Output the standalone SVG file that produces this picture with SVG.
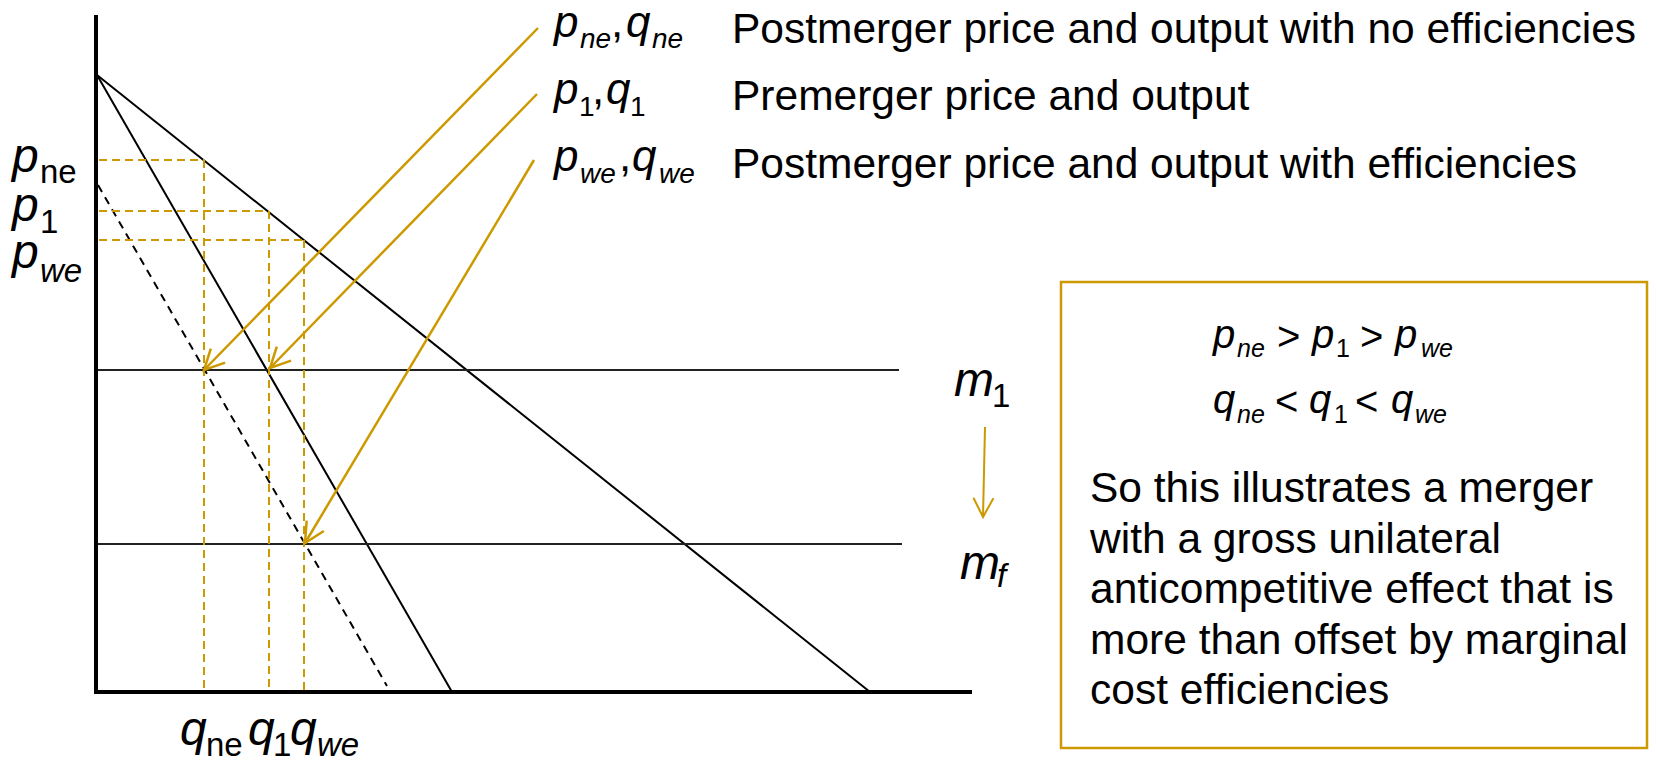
<svg xmlns="http://www.w3.org/2000/svg" width="1656" height="763" viewBox="0 0 1656 763">
<style>
  text { font-family: "Liberation Sans", Arial, sans-serif; fill: #000; }
  .it { font-style: italic; }
  .big { font-size: 48px; }
  .sub { font-size: 33px; }
  .lg { font-size: 44px; }
  .lgsub { font-size: 28px; }
  .txt { font-size: 42.5px; }
  .eq { font-size: 40px; }
  .eqsub { font-size: 25px; }
  .axis { stroke: #000; stroke-width: 4; fill: none; }
  .curve { stroke: #000; stroke-width: 2; fill: none; }
  .mc { stroke: #222; stroke-width: 2; fill: none; }
  .bdash { stroke: #000; stroke-width: 2; stroke-dasharray: 8 6; fill: none; }
  .odash { stroke: #CC9900; stroke-width: 2; stroke-dasharray: 8 5; fill: none; }
  .arrow { stroke: #CC9900; stroke-width: 2.5; fill: none; marker-end: url(#head); }
  .arrow2 { stroke: #CC9900; stroke-width: 2; fill: none; marker-end: url(#head2); }
</style>
<defs>
  <marker id="head" markerUnits="userSpaceOnUse" viewBox="-24 -13 26 26" markerWidth="26" markerHeight="26" refX="0" refY="0" orient="auto" overflow="visible">
    <path d="M-20,-10 L0,0 L-20,10" fill="none" stroke="#CC9900" stroke-width="2.5"/>
  </marker>
  <marker id="head2" markerUnits="userSpaceOnUse" viewBox="-24 -13 26 26" markerWidth="26" markerHeight="26" refX="0" refY="0" orient="auto" overflow="visible">
    <path d="M-19,-10 L0,0 L-19,10" fill="none" stroke="#CC9900" stroke-width="2"/>
  </marker>
</defs>
<rect width="1656" height="763" fill="#fff"/>

<g id="axes">
  <line class="axis" x1="96" y1="15" x2="96" y2="694"/>
  <line class="axis" x1="94" y1="692" x2="972" y2="692"/>
</g>

<g id="curves">
  <line class="curve" x1="97" y1="75" x2="870" y2="692"/>
  <line class="curve" x1="97" y1="75" x2="452" y2="692"/>
  <line class="bdash" x1="98" y1="185" x2="387" y2="686"/>
  <line class="mc" x1="98" y1="370" x2="899" y2="370"/>
  <line class="mc" x1="98" y1="544" x2="902" y2="544"/>
</g>

<g id="guides">
  <line class="odash" x1="99" y1="160" x2="204" y2="160"/>
  <line class="odash" x1="99" y1="211" x2="269" y2="211"/>
  <line class="odash" x1="99" y1="240" x2="304" y2="240"/>
  <line class="odash" x1="204" y1="160" x2="204" y2="692"/>
  <line class="odash" x1="269" y1="211" x2="269" y2="692"/>
  <line class="odash" x1="304" y1="240" x2="304" y2="695"/>
</g>

<g id="connectors">
  <line class="arrow" x1="538" y1="28" x2="204" y2="370"/>
  <line class="arrow" x1="537" y1="94" x2="270" y2="368"/>
  <line class="arrow" x1="534" y1="160" x2="305" y2="543"/>
  <line class="arrow2" x1="985" y1="427" x2="983" y2="517"/>
</g>

<g id="label-pne">
  <text class="big it" x="12" y="172">p</text>
  <text class="sub" x="40" y="183">ne</text>
</g>
<g id="label-p1">
  <text class="big it" x="12" y="221">p</text>
  <text class="sub" x="40" y="233">1</text>
</g>
<g id="label-pwe">
  <text class="big it" x="12" y="268">p</text>
  <text class="sub it" x="40" y="282">we</text>
</g>

<g id="label-qne">
  <text class="big it" x="180" y="745">q</text>
  <text class="sub" x="206" y="756">ne</text>
</g>
<g id="label-q1">
  <text class="big it" x="248" y="745">q</text>
  <text class="sub" x="273" y="756">1</text>
</g>
<g id="label-qwe">
  <text class="big it" x="290" y="745">q</text>
  <text class="sub it" x="317" y="756">we</text>
</g>

<g id="label-m1">
  <text class="big it" x="954" y="396">m</text>
  <text class="sub" x="992" y="407">1</text>
</g>
<g id="label-mf">
  <text class="big it" x="960" y="579">m</text>
  <text class="sub it" x="997" y="587">f</text>
</g>

<g id="legend-ne">
  <text class="lg it" x="554" y="37">p</text>
  <text class="lgsub it" x="580" y="48">ne</text>
  <text class="lg" x="611" y="37">,</text>
  <text class="lg it" x="626" y="37">q</text>
  <text class="lgsub it" x="652" y="48">ne</text>
  <text class="txt" x="732" y="43">Postmerger price and output with no efficiencies</text>
</g>
<g id="legend-1">
  <text class="lg it" x="554" y="104">p</text>
  <text class="lgsub" x="579" y="116">1</text>
  <text class="lg" x="592" y="104">,</text>
  <text class="lg it" x="606" y="104">q</text>
  <text class="lgsub" x="630" y="116">1</text>
  <text class="txt" x="732" y="110">Premerger price and output</text>
</g>
<g id="legend-we">
  <text class="lg it" x="554" y="171">p</text>
  <text class="lgsub it" x="580" y="183">we</text>
  <text class="lg" x="619" y="171">,</text>
  <text class="lg it" x="632" y="171">q</text>
  <text class="lgsub it" x="659" y="183">we</text>
  <text class="txt" x="732" y="178">Postmerger price and output with efficiencies</text>
</g>

<g id="summary-box">
  <rect x="1061" y="282" width="586" height="466" fill="none" stroke="#CC9900" stroke-width="2.5"/>
  <text class="eq it" x="1213" y="348">p</text>
  <text class="eqsub it" x="1237" y="357">ne</text>
  <text class="eq" x="1277" y="350">&gt;</text>
  <text class="eq it" x="1312" y="348">p</text>
  <text class="eqsub" x="1336" y="357">1</text>
  <text class="eq" x="1360" y="350">&gt;</text>
  <text class="eq it" x="1395" y="348">p</text>
  <text class="eqsub it" x="1421" y="357">we</text>

  <text class="eq it" x="1213" y="413">q</text>
  <text class="eqsub it" x="1237" y="423">ne</text>
  <text class="eq" x="1275" y="415">&lt;</text>
  <text class="eq it" x="1309" y="413">q</text>
  <text class="eqsub" x="1334" y="423">1</text>
  <text class="eq" x="1355" y="415">&lt;</text>
  <text class="eq it" x="1391" y="413">q</text>
  <text class="eqsub it" x="1415" y="423">we</text>

  <text class="txt" x="1090" y="502">So this illustrates a merger</text>
  <text class="txt" x="1090" y="552.5">with a gross unilateral</text>
  <text class="txt" x="1090" y="603">anticompetitive effect that is</text>
  <text class="txt" x="1090" y="653.5">more than offset by marginal</text>
  <text class="txt" x="1090" y="704">cost efficiencies</text>
</g>
</svg>
